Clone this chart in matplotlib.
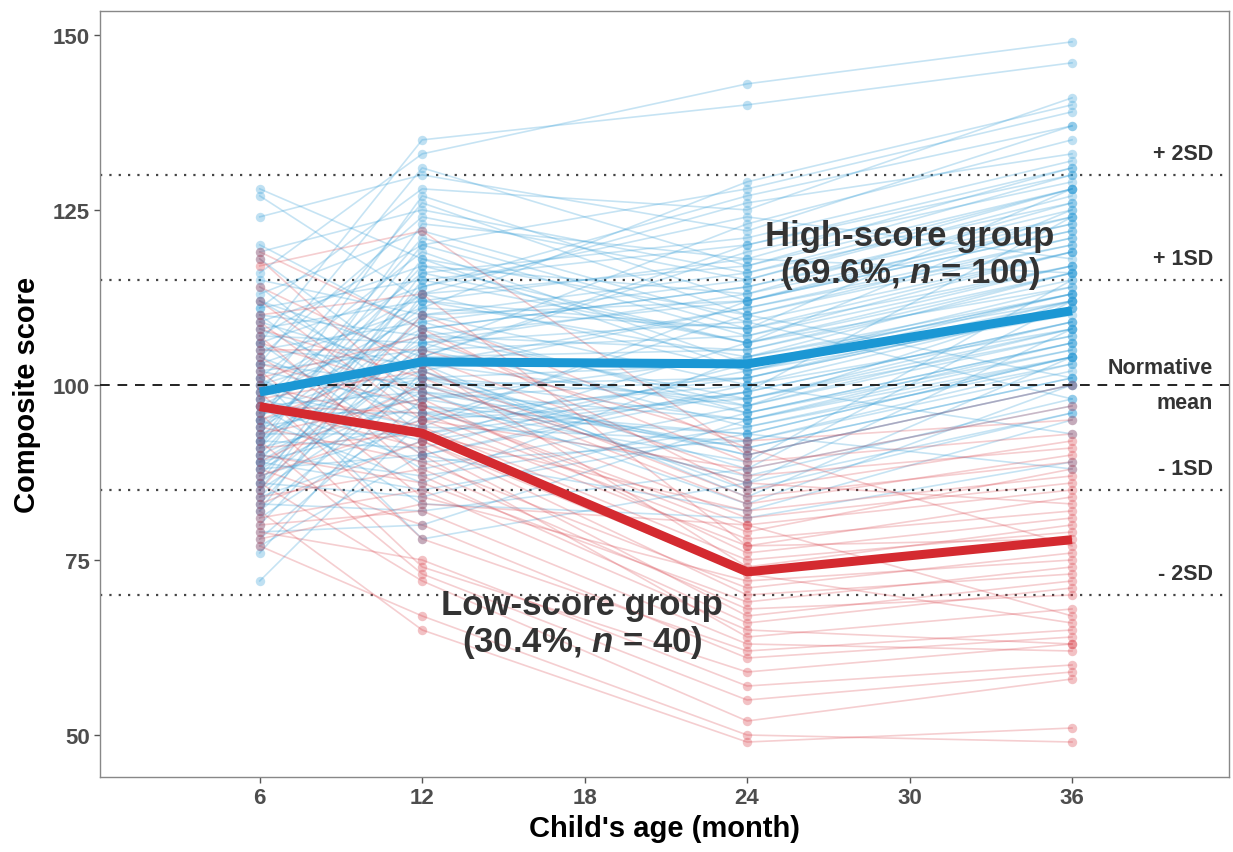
import matplotlib
matplotlib.use("Agg")
import matplotlib.pyplot as plt
import numpy as np

# ages at which children were assessed
ages = [6, 12, 24, 36]

# high-score group, one entry per child (same index = same child)
high_6m = [128, 127, 124, 120, 119, 118, 116, 115, 114, 113,
           112, 112, 111, 111, 110, 110, 109, 109, 108, 108,
           107, 107, 106, 106, 105, 105, 104, 104, 103, 103,
           102, 102, 101, 101, 100, 100, 100, 99, 99, 99,
           98, 98, 98, 97, 97, 97, 96, 96, 96, 95,
           95, 95, 94, 94, 94, 93, 93, 93, 92, 92,
           92, 91, 91, 91, 90, 90, 90, 89, 89, 89,
           88, 88, 88, 87, 87, 86, 86, 85, 85, 84,
           84, 83, 83, 82, 82, 81, 80, 79, 78, 77,
           76, 72, 106, 103, 101, 97, 95, 92, 89, 86]
high_12m = [118, 112, 130, 108, 125, 101, 133, 110, 96, 122,
            104, 99, 115, 128, 107, 93, 117, 102, 112, 98,
            120, 106, 90, 114, 103, 109, 95, 124, 100, 111,
            105, 97, 119, 88, 113, 101, 107, 94, 126, 103,
            110, 92, 116, 99, 108, 89, 113, 104, 96, 121,
            101, 86, 111, 98, 106, 93, 117, 102, 109, 91,
            105, 123, 97, 112, 100, 87, 114, 103, 95, 118,
            99, 107, 90, 110, 94, 104, 84, 115, 100, 106,
            92, 108, 82, 101, 113, 96, 105, 80, 98, 90,
            102, 95, 135, 131, 78, 83, 127, 120, 85, 116]
high_24m = [110, 104, 122, 97, 116, 95, 143, 112, 100, 109,
            120, 91, 106, 125, 98, 102, 113, 88, 118, 104,
            107, 94, 99, 127, 111, 96, 101, 115, 86, 108,
            123, 93, 103, 97, 117, 90, 105, 112, 110, 84,
            100, 106, 121, 95, 114, 92, 102, 119, 87, 108,
            98, 104, 129, 91, 113, 99, 106, 85, 115, 103,
            96, 118, 89, 108, 101, 94, 124, 97, 110, 102,
            83, 112, 100, 116, 92, 105, 96, 120, 90, 109,
            99, 114, 88, 103, 126, 93, 107, 95, 101, 82,
            111, 98, 140, 117, 86, 81, 112, 128, 93, 106]
high_36m = [121, 116, 137, 112, 128, 104, 149, 124, 108, 98,
            131, 101, 114, 141, 107, 110, 126, 112, 116, 112,
            119, 103, 109, 137, 120, 106, 111, 128, 108, 117,
            135, 104, 113, 108, 130, 100, 115, 122, 101, 104,
            111, 116, 132, 105, 125, 102, 112, 129, 98, 128,
            109, 113, 140, 101, 123, 124, 117, 96, 127, 114,
            106, 131, 115, 119, 112, 104, 118, 107, 120, 113,
            100, 122, 93, 126, 103, 116, 105, 130, 100, 119,
            109, 124, 97, 113, 133, 104, 117, 106, 111, 95,
            121, 108, 146, 128, 96, 89, 123, 139, 88, 125]

# low-score group
low_6m = [119, 118, 117, 114, 112, 110, 109, 108, 107, 106,
          105, 104, 103, 102, 101, 100, 99, 98, 97, 97,
          96, 95, 94, 93, 92, 91, 90, 89, 88, 87,
          86, 85, 84, 83, 82, 81, 80, 79, 78, 77]
low_12m = [108, 97, 122, 103, 95, 113, 92, 101, 87, 99,
           105, 90, 97, 84, 107, 94, 78, 102, 91, 96,
           74, 104, 89, 98, 73, 93, 86, 100, 80, 95,
           72, 110, 88, 92, 65, 85, 82, 75, 83, 67]
low_24m = [85, 79, 90, 74, 88, 77, 70, 83, 66, 81,
           92, 64, 80, 72, 89, 75, 62, 84, 67, 78,
           59, 87, 71, 76, 55, 82, 69, 86, 61, 77,
           52, 91, 68, 73, 49, 65, 63, 57, 80, 50]
low_36m = [92, 88, 100, 80, 97, 84, 73, 90, 71, 86,
           95, 68, 85, 75, 93, 79, 65, 89, 72, 82,
           63, 91, 76, 81, 59, 87, 74, 83, 64, 78,
           58, 77, 70, 66, 51, 63, 62, 60, 67, 49]

# estimated group trajectories
high_mean = [99.0, 103.3, 103.0, 110.6]
low_mean = [96.9, 93.1, 73.3, 77.9]

# reference lines (norm mean 100, SD 15)
sd_lines = [130, 115, 85, 70]
sd_labels = ["+ 2SD", "+ 1SD", "- 1SD", "- 2SD"]

blue = "#2E9BD6"
red = "#D6333D"
dark = "#333333"

plt.rcParams['font.family'] = ['Liberation Sans', 'DejaVu Sans']
plt.rcParams['mathtext.fontset'] = 'custom'
plt.rcParams['mathtext.it'] = 'Liberation Sans:italic:bold'

fig = plt.figure(figsize=(12.33, 8.53), dpi=100)
ax = fig.add_axes([0.0811, 0.0879, 0.9157, 0.898])

high = np.array([high_6m, high_12m, high_24m, high_36m]).T
low = np.array([low_6m, low_12m, low_24m, low_36m]).T

for row in high:
    ax.plot(ages, row, color=blue, alpha=0.27, lw=1.2, zorder=2)
for row in low:
    ax.plot(ages, row, color=red, alpha=0.24, lw=1.2, zorder=2)
for row in high:
    ax.scatter(ages, row, s=46, color=blue, alpha=0.3, lw=0, zorder=3)
for row in low:
    ax.scatter(ages, row, s=46, color=red, alpha=0.3, lw=0, zorder=3)

for y in sd_lines:
    ax.axhline(y, color="#444444", lw=1.6, ls=(0, (1, 3.2)), zorder=1)
ax.axhline(100, color="#222222", lw=1.4, ls=(0, (5, 4)), zorder=4)

ax.plot(ages, high_mean, color="#1B97D4", lw=6.5, solid_capstyle="butt", zorder=5)
ax.plot(ages, low_mean, color="#D42A30", lw=6.5, solid_capstyle="butt", zorder=5)

# group annotations
ax.text(30.0, 121.3, "High-score group", ha="center", va="center",
        fontsize=25, fontweight="bold", color=dark, zorder=6)
ax.text(30.0, 116.1, r"(69.6%, $\mathit{n}$ = 100)", ha="center", va="center",
        fontsize=25, fontweight="bold", color=dark, zorder=6)
ax.text(17.9, 68.6, "Low-score group", ha="center", va="center",
        fontsize=25, fontweight="bold", color=dark, zorder=6)
ax.text(17.9, 63.4, r"(30.4%, $\mathit{n}$ = 40)", ha="center", va="center",
        fontsize=25, fontweight="bold", color=dark, zorder=6)

# SD labels on the right
for y, lab in zip(sd_lines, sd_labels):
    ax.text(41.2, y + 1.5, lab, ha="right", va="bottom",
            fontsize=15.5, fontweight="bold", color=dark)
ax.text(41.2, 101.0, "Normative", ha="right", va="bottom",
        fontsize=15.5, fontweight="bold", color=dark)
ax.text(41.2, 99.0, "mean", ha="right", va="top",
        fontsize=15.5, fontweight="bold", color=dark)

ax.set_xlim(0.1, 41.8)
ax.set_ylim(44, 153.4)
ax.set_xticks([6, 12, 18, 24, 30, 36])
ax.set_yticks([50, 75, 100, 125, 150])
ax.tick_params(axis="both", colors="#555555", labelsize=16, length=4, width=1)
for lab in ax.get_xticklabels() + ax.get_yticklabels():
    lab.set_fontweight("bold")
    lab.set_color("#4D4D4D")
for s in ax.spines.values():
    s.set_color("#888888")
    s.set_linewidth(1.0)

ax.set_xlabel("Child's age (month)", fontsize=21, fontweight="bold", labelpad=4)
ax.set_ylabel("Composite score", fontsize=21, fontweight="bold", labelpad=8)

fig.savefig("out.png", dpi=100)
